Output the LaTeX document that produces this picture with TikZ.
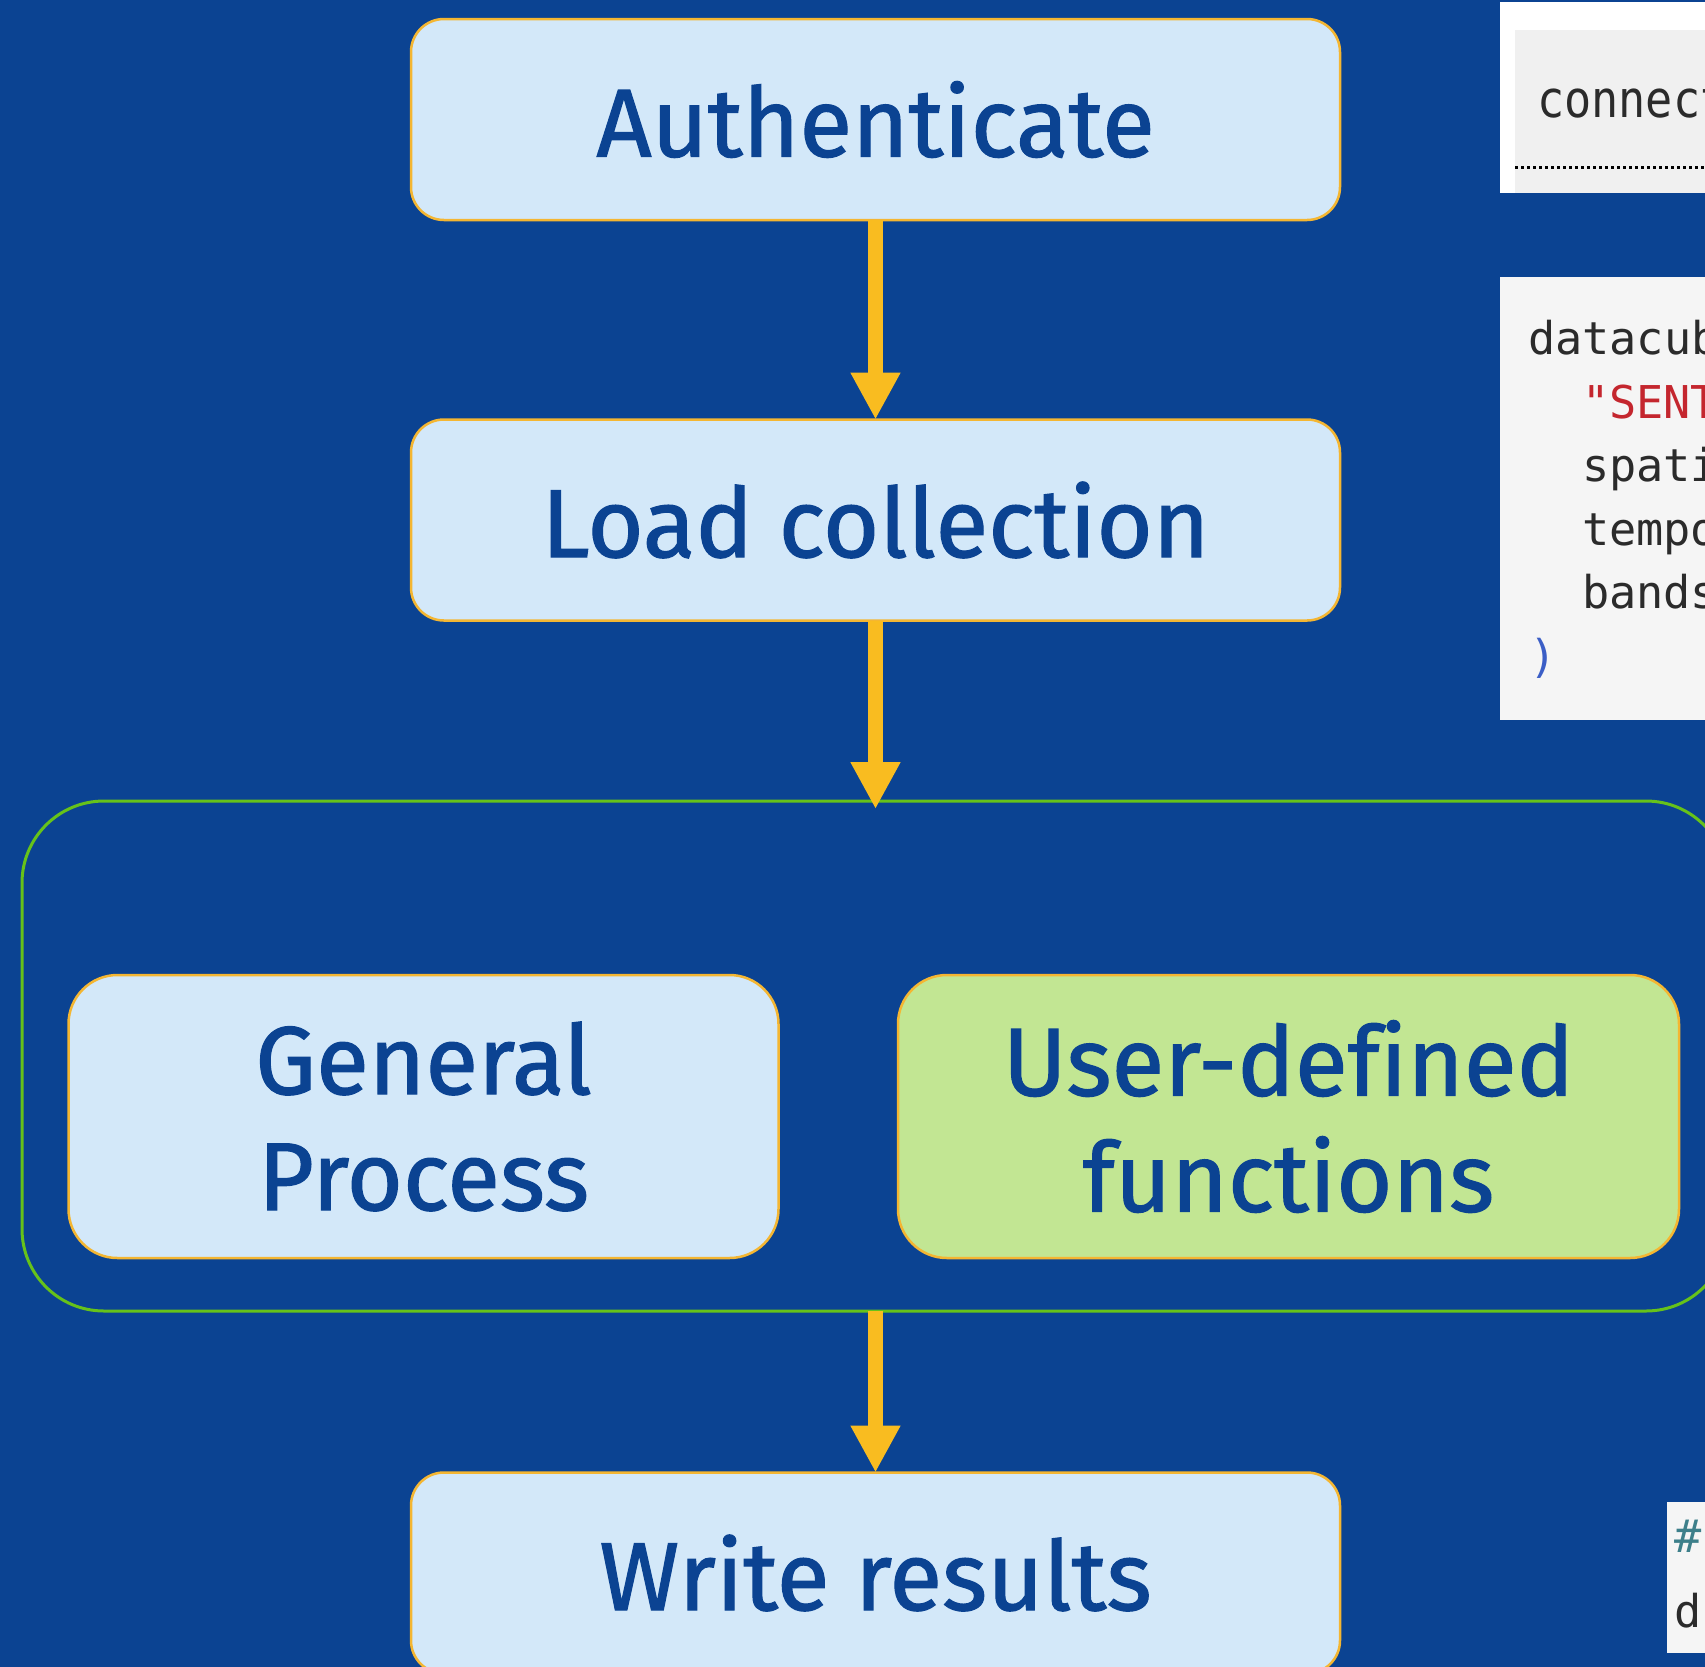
\documentclass[tikz,border=0pt]{standalone}
\usepackage{fontspec}
\setmainfont{Fira Sans}
\newfontfamily\boxfam{Fira Sans}[FakeBold=1.2, Ligatures=NoCommon]
\newfontfamily\codefont{DejaVu Sans Mono}
\usetikzlibrary{arrows.meta}

\definecolor{bgblue}{HTML}{0B4392}
\definecolor{boxfill}{HTML}{D3E8F9}
\definecolor{boxline}{HTML}{F4B632}
\definecolor{textblue}{HTML}{0B4392}
\definecolor{arrowc}{HTML}{F9BC20}
\definecolor{grpline}{HTML}{66C21A}
\definecolor{udffill}{HTML}{C2E693}
\definecolor{codebg}{HTML}{F5F5F5}
\definecolor{codeink}{HTML}{2B2B2B}
\definecolor{codestr}{HTML}{C4262E}
\definecolor{codecom}{HTML}{3D7F8A}
\definecolor{codepar}{HTML}{3B5EC6}

\newcommand{\boxfont}{\boxfam\fontsize{48.3}{58}\selectfont}
\newcommand{\codesize}{\codefont\fontsize{22.6}{27}\selectfont}

\begin{document}
\begin{tikzpicture}[x=0.5pt,y=-0.5pt,
  flowbox/.style={draw=boxline, line width=1.25pt, fill=boxfill,
    rounded corners=16.5pt, inner sep=0pt, outer sep=0pt,
    text=textblue, font=\boxfont, align=center,
    minimum width=464.5pt, minimum height=100.5pt},
  bigbox/.style={flowbox, rounded corners=24.5pt, minimum height=141.5pt},
  grpbox/.style={draw=grpline, line width=1.5pt, rounded corners=41pt,
    inner sep=0pt, outer sep=0pt},
  flowarrow/.style={draw=arrowc, line width=7.5pt,
    -{Triangle[length=23.5pt,width=23.5pt]}},
  codetext/.style={anchor=base west, inner sep=0pt, outer sep=0pt,
    font=\codesize, text=codeink}]

\useasboundingbox (0,0) rectangle (1705,1667);
\clip (0,0) rectangle (1705,1667);
\fill[bgblue] (0,0) rectangle (1705,1667);

% code snippets along the right edge
\fill[white] (1500,2) rectangle (1760,193);
\fill[codebg!98!black] (1515,30) rectangle (1760,193);
\draw[black, line width=1.5pt, dash pattern=on 1.5pt off 1.5pt] (1515,167) -- (1760,167);
\node[codetext] (c1) at (1537,117) {\scalebox{1}[1.13]{connect}};

\fill[codebg] (1500,277) rectangle (1760,720);
\node[codetext] (c2) at (1528,354) {datacube};
\node[codetext, text=codestr] (c3) at (1582,418) {"SENTI};
\node[codetext] (c4) at (1582,481) {spatia};
\node[codetext] (c5) at (1582,545) {tempor};
\node[codetext] (c6) at (1582,608) {bands};
\node[codetext, text=codepar] (c7) at (1529,672) {)};

\fill[codebg] (1667,1502) rectangle (1760,1653);
\node[codetext, text=codecom] (c8) at (1674,1552) {\#};
\node[codetext] (c9) at (1674,1627) {d};

% workflow
\node[flowbox] (auth) at (875.5,119.5) {Authenticate};
\node[flowbox] (load) at (875.5,520) {Load collection};
\node[grpbox, minimum width=853pt, minimum height=255pt] (group) at (875,1056) {};
\node[bigbox, minimum width=355pt] (general) at (423.5,1116.5) {General\\Process};
\node[bigbox, fill=udffill, minimum width=390.5pt] (udf) at (1288.5,1116.5) {User-defined\\functions};
\node[flowbox] (write) at (875.5,1573) {Write results};

\draw[flowarrow] (auth) -- (load);
\draw[flowarrow] (load.south) -- ([yshift=-4pt]load.south |- group.north);
\draw[flowarrow] (write.north |- group.south) -- (write.north);
\end{tikzpicture}
\end{document}
